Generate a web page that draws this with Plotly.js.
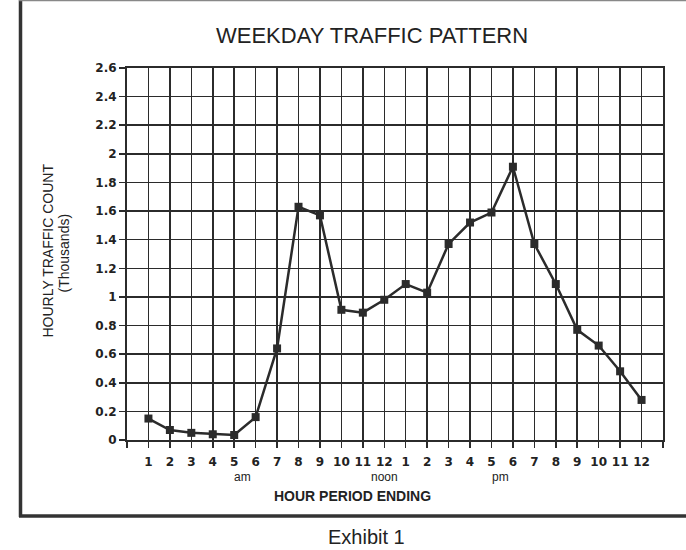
<!DOCTYPE html>
<html>
<head>
<meta charset="utf-8">
<script src="https://cdn.plot.ly/plotly-3.0.1.min.js"></script>
<style>html,body{margin:0;padding:0;background:#fff;}#chart{width:686px;height:550px;}</style>
</head>
<body>
<div id="chart"></div>
<script>
// ---- data ----
const hourLabels = ['1','2','3','4','5','6','7','8','9','10','11','12','1','2','3','4','5','6','7','8','9','10','11','12'];
const hourIndex = [1,2,3,4,5,6,7,8,9,10,11,12,13,14,15,16,17,18,19,20,21,22,23,24];
const trafficThousands = [0.15,0.07,0.05,0.04,0.035,0.16,0.64,1.63,1.57,0.91,0.89,0.98,1.09,1.03,1.37,1.52,1.59,1.91,1.37,1.09,0.77,0.66,0.48,0.28];
const yTickVals = [0,0.2,0.4,0.6,0.8,1,1.2,1.4,1.6,1.8,2,2.2,2.4,2.6];
const yTickText = ['0','0.2','0.4','0.6','0.8','1','1.2','1.4','1.6','1.8','2','2.2','2.4','2.6'];
const periodLabels = ['am','noon','pm'];
const periodPos = [5.4,12,17.4];

// ---- layout geometry ----
const W = 686, H = 550;
const M = {l:127, r:23, t:68, b:110};
const pw = W - M.l - M.r, ph = H - M.t - M.b;
const px = x => (x - M.l) / pw;            // pixel -> paper x
const py = y => (H - M.b - y) / ph;        // pixel -> paper y

const ink = '#2b2b2b';
const xTickVals = [0].concat(hourIndex, [25]);
const xTickText = [''].concat(hourLabels, ['']);

const trace = {
  x: hourIndex, y: trafficThousands, type: 'scatter', mode: 'lines+markers',
  line: {color: ink, width: 2.5},
  marker: {symbol: 'square', size: 8, color: ink},
  cliponaxis: false, hoverinfo: 'skip'
};

const tickFont = {family: 'DejaVu Sans', size: 12, color: '#222', weight: 'bold'};

const annotations = [
  {text: 'WEEKDAY TRAFFIC PATTERN', xref: 'paper', yref: 'paper', x: px(372), y: py(35), showarrow: false,
   xanchor: 'center', yanchor: 'middle', font: {family: 'Liberation Sans, Arial', size: 22, color: '#222'}},
  {text: 'HOURLY TRAFFIC COUNT', xref: 'paper', yref: 'paper', x: px(47.5), y: py(251), showarrow: false,
   textangle: -90, xanchor: 'center', yanchor: 'middle', font: {family: 'Liberation Sans, Arial', size: 14, color: '#222'}},
  {text: '(Thousands)', xref: 'paper', yref: 'paper', x: px(63.5), y: py(253), showarrow: false,
   textangle: -90, xanchor: 'center', yanchor: 'middle', font: {family: 'Liberation Sans, Arial', size: 14, color: '#222'}},
  {text: 'HOUR PERIOD ENDING', xref: 'paper', yref: 'paper', x: px(352), y: py(496), showarrow: false,
   xanchor: 'center', yanchor: 'middle', font: {family: 'Liberation Sans, Arial', size: 14, color: '#222', weight: 'bold'}},
  {text: 'Exhibit 1', xref: 'paper', yref: 'paper', x: px(366), y: py(537), showarrow: false,
   xanchor: 'center', yanchor: 'middle', font: {family: 'Liberation Sans, Arial', size: 20, color: '#222'}}
];
periodLabels.forEach((t, i) => annotations.push({
  text: t, xref: 'x', yref: 'paper', x: periodPos[i], y: py(477), showarrow: false,
  xanchor: 'center', yanchor: 'middle', font: {family: 'Liberation Sans, Arial', size: 12, color: '#222'}
}));

const shapes = [
  {type: 'line', xref: 'paper', yref: 'paper', x0: px(20.5), x1: px(20.5), y0: py(0), y1: py(517), line: {color: '#333', width: 3.5}},
  {type: 'line', xref: 'paper', yref: 'paper', x0: px(19), x1: px(700), y0: py(516), y1: py(516), line: {color: '#333', width: 3.5}},
  {type: 'line', xref: 'paper', yref: 'paper', x0: px(19), x1: px(700), y0: py(0.5), y1: py(0.5), line: {color: '#888', width: 1.5}}
];

const layout = {
  width: W, height: H, margin: M,
  paper_bgcolor: '#fff', plot_bgcolor: '#fff', showlegend: false,
  xaxis: {
    range: [0, 25], tickmode: 'array', tickvals: xTickVals, ticktext: xTickText,
    showgrid: true, gridcolor: ink, gridwidth: 1.5, zeroline: false,
    showline: true, linecolor: ink, linewidth: 2, mirror: true,
    ticks: 'outside', ticklen: 6, tickwidth: 1.5, tickcolor: ink,
    tickfont: tickFont, ticklabelstandoff: 4, fixedrange: true
  },
  yaxis: {
    range: [0, 2.6], tickmode: 'array', tickvals: yTickVals, ticktext: yTickText,
    showgrid: true, gridcolor: ink, gridwidth: 1.5, zeroline: false,
    showline: true, linecolor: ink, linewidth: 2, mirror: true,
    ticks: 'outside', ticklen: 6, tickwidth: 1.5, tickcolor: ink,
    tickfont: tickFont, fixedrange: true
  },
  annotations: annotations, shapes: shapes
};

Plotly.newPlot('chart', [trace], layout, {displayModeBar: false, staticPlot: true});
</script>
</body>
</html>
